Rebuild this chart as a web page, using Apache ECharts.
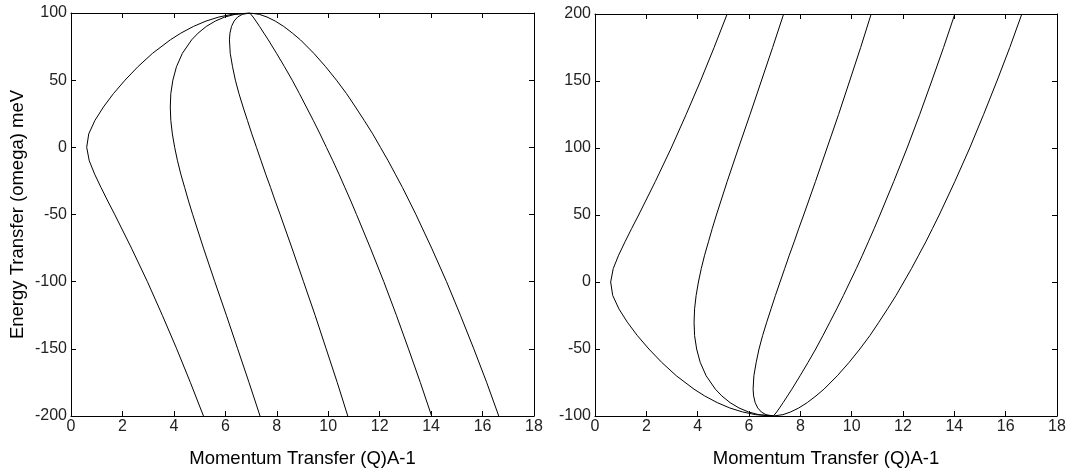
<!DOCTYPE html>
<html>
<head>
<meta charset="utf-8">
<script src="https://cdn.jsdelivr.net/npm/echarts@6/dist/echarts.min.js"></script>
<style>
html,body{margin:0;padding:0;background:#fff;}
#chart{width:1073px;height:473px;}
</style>
</head>
<body>
<div id="chart"></div>
<script>
// Energy transfer values (meV) for the left panel (fixed incident energy)
const energyLeft = [100, 99, 97, 94, 90, 85, 80, 70, 60, 50, 40, 30, 20, 10, 0, -10, -20, -30, -40, -50, -75, -100, -125, -150, -175, -200];
// Energy transfer values (meV) for the right panel (fixed final energy)
const energyRight = [-100, -99, -97, -94, -90, -85, -80, -70, -60, -50, -40, -30, -20, -10, 0, 10, 20, 30, 40, 50, 75, 100, 125, 150, 175, 200];

// Momentum transfer (1/A) for each of the five curves, read at the energies above
const q1 = [6.95, 6.26, 5.75, 5.25, 4.76, 4.27, 3.86, 3.17, 2.60, 2.10, 1.65, 1.26, 0.93, 0.69, 0.61, 0.71, 0.92, 1.17, 1.43, 1.70, 2.35, 2.97, 3.55, 4.11, 4.64, 5.15];
const q2 = [6.95, 6.38, 5.98, 5.61, 5.26, 4.94, 4.69, 4.33, 4.10, 3.96, 3.88, 3.86, 3.88, 3.94, 4.03, 4.14, 4.27, 4.42, 4.57, 4.73, 5.15, 5.59, 6.04, 6.48, 6.92, 7.35];
const q3 = [6.95, 6.66, 6.48, 6.34, 6.24, 6.18, 6.16, 6.19, 6.28, 6.39, 6.53, 6.69, 6.86, 7.03, 7.21, 7.39, 7.57, 7.76, 7.94, 8.13, 8.59, 9.04, 9.49, 9.92, 10.35, 10.76];
const q4 = [6.95, 7.00, 7.08, 7.19, 7.33, 7.50, 7.67, 7.99, 8.30, 8.60, 8.88, 9.15, 9.42, 9.68, 9.93, 10.18, 10.42, 10.65, 10.88, 11.10, 11.64, 12.16, 12.65, 13.12, 13.58, 14.02];
const q5 = [6.95, 7.32, 7.62, 7.94, 8.27, 8.61, 8.92, 9.44, 9.90, 10.32, 10.71, 11.06, 11.40, 11.73, 12.03, 12.33, 12.61, 12.89, 13.15, 13.41, 14.02, 14.60, 15.14, 15.66, 16.16, 16.63];
const curves = [q1, q2, q3, q4, q5];

const xName = 'Momentum Transfer (Q)A-1';
const yName = 'Energy Transfer (omega) meV';

const FONT = 'Liberation Sans, Arial, sans-serif';
const lineStyle = {color: '#000', width: 1};

function xAxisDef(grid, pos, withLabels) {
  return {
    gridIndex: grid, type: 'value', min: 0, max: 18, interval: 2, position: pos,
    axisLine: {show: true, onZero: false, lineStyle: lineStyle},
    axisTick: {show: true, inside: true, length: 5, lineStyle: lineStyle},
    axisLabel: {show: withLabels, fontSize: 16, color: '#222', margin: 3, fontFamily: FONT},
    splitLine: {show: false},
    name: withLabels ? xName : '', nameLocation: 'middle', nameGap: 33,
    nameTextStyle: {fontSize: 18.5, color: '#000', fontFamily: FONT}
  };
}
function yAxisDef(grid, pos, withLabels, min, max, name) {
  return {
    gridIndex: grid, type: 'value', min: min, max: max, interval: 50, position: pos,
    axisLine: {show: true, onZero: false, lineStyle: lineStyle},
    axisTick: {show: true, inside: true, length: 5, lineStyle: lineStyle},
    axisLabel: {show: withLabels, fontSize: 16, color: '#222', margin: 4, fontFamily: FONT},
    splitLine: {show: false},
    name: name, nameLocation: 'middle', nameGap: 44, nameRotate: 90,
    nameTextStyle: {fontSize: 18.5, color: '#000', fontFamily: FONT}
  };
}

const series = [];
curves.forEach(function (q) {
  series.push({
    type: 'line', xAxisIndex: 0, yAxisIndex: 0, showSymbol: false, silent: true,
    lineStyle: lineStyle, data: q.map(function (v, i) { return [v, energyLeft[i]]; })
  });
});
curves.forEach(function (q) {
  series.push({
    type: 'line', xAxisIndex: 2, yAxisIndex: 2, showSymbol: false, silent: true,
    lineStyle: lineStyle, data: q.map(function (v, i) { return [v, energyRight[i]]; })
  });
});

const chart = echarts.init(document.getElementById('chart'), null, {renderer: 'canvas'});
chart.setOption({
  animation: false,
  backgroundColor: '#fff',
  grid: [
    {left: 71, top: 13, width: 463, height: 412},
    {left: 595, top: 14, width: 462, height: 412}
  ],
  xAxis: [
    xAxisDef(0, 'bottom', true),
    xAxisDef(0, 'top', false),
    xAxisDef(1, 'bottom', true),
    xAxisDef(1, 'top', false)
  ],
  yAxis: [
    yAxisDef(0, 'left', true, -200, 100, yName),
    yAxisDef(0, 'right', false, -200, 100, ''),
    yAxisDef(1, 'left', true, -100, 200, ''),
    yAxisDef(1, 'right', false, -100, 200, '')
  ],
  series: series
});
</script>
</body>
</html>
